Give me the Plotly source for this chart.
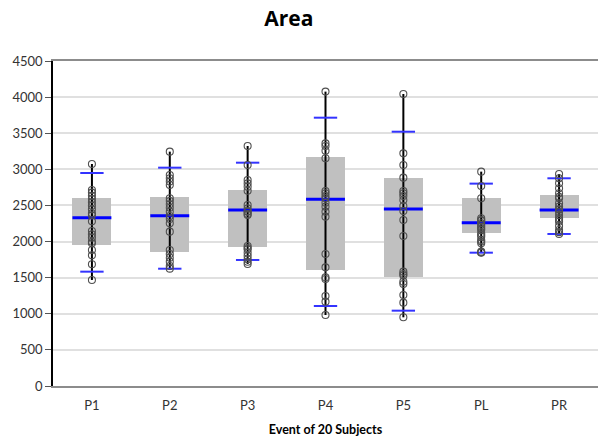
import plotly.graph_objects as go

categories = ["P1", "P2", "P3", "P4", "P5", "PL", "PR"]

q1 = [1952, 1851, 1920, 1606, 1505, 2114, 2331]
q3 = [2607, 2622, 2714, 3171, 2876, 2599, 2645]
median = [2331, 2358, 2437, 2585, 2451, 2262, 2437]
cap_low = [1583, 1624, 1745, 1108, 1043, 1846, 2105]
cap_high = [2949, 3023, 3092, 3715, 3521, 2802, 2876]

points = {
    "P1": [3074, 2714, 2677, 2635, 2589, 2543, 2497, 2446, 2391, 2363,
           2280, 2146, 2100, 2054, 1998, 1975, 1883, 1809, 1685, 1468],
    "P2": [3245, 2922, 2876, 2830, 2784, 2600, 2562, 2516, 2469, 2414,
           2354, 2312, 2253, 2137, 1883, 1828, 1777, 1722, 1662, 1625],
    "P3": [3323, 3060, 2852, 2806, 2760, 2704, 2506, 2460, 2414, 2380,
           2368, 1938, 1910, 1892, 1846, 1800, 1754, 1720, 1689, 2420],
    "P4": [4076, 3360, 3323, 3258, 3153, 2700, 2668, 2631, 2599, 2539,
           2483, 2414, 2345, 1828, 1643, 1505, 1482, 1246, 1168, 983],
    "P5": [4043, 3221, 3060, 2885, 2700, 2668, 2631, 2576, 2493, 2423,
           2299, 2077, 1583, 1551, 1530, 1445, 1412, 1260, 1154, 951],
    "PL": [2968, 2770, 2600, 2322, 2299, 2290, 2253, 2230, 2206, 2180,
           2160, 2114, 2090, 2068, 2022, 2000, 1975, 1860, 1850, 1846],
    "PR": [2935, 2876, 2807, 2738, 2668, 2599, 2530, 2483, 2447, 2414,
           2368, 2322, 2300, 2275, 2216, 2160, 2130, 2105, 2440, 2620],
}

yticks = [0, 500, 1000, 1500, 2000, 2500, 3000, 3500, 4000, 4500]

idx = list(range(len(categories)))
box_half = 0.25
cap_half = 0.15

fig = go.Figure()

# boxes
fig.add_trace(go.Bar(
    x=idx, y=[b - a for a, b in zip(q1, q3)], base=q1, width=box_half * 2,
    marker=dict(color="#c0c0c0", line=dict(width=0)), hoverinfo="skip",
))

# whisker vertical lines (min to max of points)
vx, vy = [], []
for i, c in enumerate(categories):
    vx += [i, i, None]
    vy += [min(points[c]), max(points[c]), None]
fig.add_trace(go.Scatter(x=vx, y=vy, mode="lines",
                         line=dict(color="black", width=2), hoverinfo="skip"))

# caps
cx, cy = [], []
for i in idx:
    cx += [i - cap_half, i + cap_half, None, i - cap_half, i + cap_half, None]
    cy += [cap_low[i], cap_low[i], None, cap_high[i], cap_high[i], None]
fig.add_trace(go.Scatter(x=cx, y=cy, mode="lines",
                         line=dict(color="#3333ff", width=2), hoverinfo="skip"))

# medians
mx, my = [], []
for i in idx:
    mx += [i - box_half, i + box_half, None]
    my += [median[i], median[i], None]
fig.add_trace(go.Scatter(x=mx, y=my, mode="lines",
                         line=dict(color="#0000ff", width=3), hoverinfo="skip"))

# points
px, py = [], []
for i, c in enumerate(categories):
    px += [i] * len(points[c])
    py += points[c]
fig.add_trace(go.Scatter(
    x=px, y=py, mode="markers",
    marker=dict(symbol="circle-open", size=7, color="#505050", line=dict(width=1.1)),
))

fig.update_layout(
    width=598, height=441,
    margin=dict(l=53, r=0, t=61, b=55),
    paper_bgcolor="white", plot_bgcolor="white",
    showlegend=False, bargap=0,
    font=dict(family="Lato, Open Sans, sans-serif", size=13, color="#333333"),
    title=dict(text="<b>Area</b>", x=0.483, xanchor="center", y=0.958, yanchor="middle",
               font=dict(family="Open Sans, sans-serif", size=21, color="black")),
)
fig.update_xaxes(
    range=[-0.5, len(categories) - 0.5],
    tickmode="array", tickvals=idx, ticktext=categories,
    showgrid=False, zeroline=False,
    showline=True, linecolor="#8c8c8c", linewidth=2, mirror=True,
    ticks="", ticklen=0, ticklabelstandoff=6,
    tickfont=dict(size=13, color="#333333"),
    title=dict(text="<b>Event of 20 Subjects</b>", font=dict(size=12.5, color="black"), standoff=14),
)
fig.update_yaxes(
    range=[0, 4500], tickmode="array", tickvals=yticks,
    showgrid=True, gridcolor="#e0e0e0", gridwidth=1.5,
    zeroline=False, showline=True, linecolor="black", linewidth=1.5,
    ticks="outside", ticklen=6, tickcolor="#555555",
    tickfont=dict(size=13, color="#333333"),
)

fig.write_html("out.html")
